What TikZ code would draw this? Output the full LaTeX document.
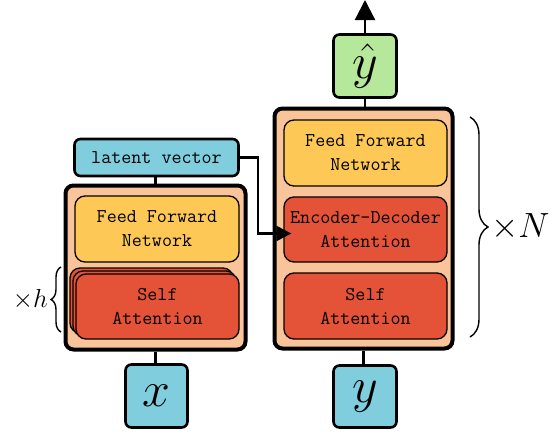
\documentclass[tikz,border=0pt]{standalone}
\usepackage{fix-cm}
\usetikzlibrary{arrows.meta,decorations.pathreplacing,calc}
\definecolor{cblue}{HTML}{80CDDD}
\definecolor{cpeach}{HTML}{F9C499}
\definecolor{cyellow}{HTML}{FDC856}
\definecolor{cred}{HTML}{E45238}
\definecolor{cgreen}{HTML}{B5E89A}
\tikzset{
  outerbox/.style={draw, fill=cpeach, line width=4pt, rounded corners=8pt, inner sep=0pt},
  innerbox/.style={draw, line width=1.3pt, rounded corners=10pt, inner sep=0pt, align=center,
     font=\ttfamily\fontsize{19.5}{24}\selectfont},
  smallbox/.style={draw, line width=2.6pt, rounded corners=6pt, inner sep=0pt, align=center},
  conn/.style={line width=2.3pt},
  bracestyle/.style={decorate, line width=1.4pt}
}
\begin{document}
\begin{tikzpicture}[x=1pt,y=-1pt]
\useasboundingbox (0,0) rectangle (550,434);
% encoder
\node[smallbox, fill=cblue, minimum width=164pt, minimum height=37pt,
      font=\ttfamily\fontsize{19.5}{24}\selectfont] (lat) at (156.5,157.5) {latent vector};
\node[outerbox, minimum width=180pt, minimum height=164pt] (encout) at (155.5,267.5) {};
\node[innerbox, fill=cyellow, minimum width=164pt, minimum height=66pt] (ffnL) at (157,229) {Feed Forward\\Network};
\node[innerbox, fill=cred, minimum width=163pt, minimum height=65pt] (saLb) at (151.5,300.5) {};
\node[innerbox, fill=cred, minimum width=163pt, minimum height=65pt] (saLm) at (154.5,303.5) {};
\node[innerbox, fill=cred, minimum width=163pt, minimum height=65pt] (saL) at (157.5,306.5) {Self\\Attention};
\node[smallbox, fill=cblue, minimum width=62pt, minimum height=63pt,
      font=\fontsize{50}{50}\selectfont] (xbox) at (156.5,396) {$x$};
% decoder
\node[outerbox, minimum width=178pt, minimum height=240pt] (decout) at (363.5,228.5) {};
\node[innerbox, fill=cyellow, minimum width=163pt, minimum height=66pt] (ffnR) at (365.5,153) {Feed Forward\\Network};
\node[innerbox, fill=cred, minimum width=163pt, minimum height=65pt] (edR) at (365.5,229.5) {Encoder-Decoder\\Attention};
\node[innerbox, fill=cred, minimum width=163pt, minimum height=66pt] (saR) at (365.5,306) {Self\\Attention};
\node[smallbox, fill=cblue, minimum width=63pt, minimum height=62pt,
      font=\fontsize{50}{50}\selectfont] (ybox) at (365,396.5) {$y$};
\node[smallbox, fill=cgreen, minimum width=63pt, minimum height=63pt,
      font=\fontsize{50}{50}\selectfont] (yhat) at (365,66) {$\hat{y}$};
\coordinate (top) at (365,0);
% connectors
\draw[conn] (lat.south -| encout.north) -- (encout.north);
\draw[conn] (encout.south) -- (encout.south |- xbox.north);
\draw[conn] (decout.south) -- (decout.south |- ybox.north);
\draw[conn] (yhat.south |- decout.north) -- (yhat.south);
\draw[conn, -{Triangle[width=20pt,length=20pt]}] (yhat.north) -- (top);
\coordinate (bend) at (258,157.5);
\coordinate (edtip) at ($(edR.west)+(8,4)$);
\draw[conn, -{Triangle[width=15pt,length=15pt]}] (lat.east |- bend) -- (bend) -- (bend |- edtip) -- (edtip);
% braces
\coordinate (hb1) at (61,332);
\coordinate (hb2) at (61,267);
\draw[bracestyle, decoration={brace, amplitude=10pt}] (hb1) -- (hb2);
\node[anchor=east, inner sep=0pt, font=\fontsize{26}{26}\selectfont] (xh) at (48,300) {$\times h$};
\coordinate (nb1) at (470,117);
\coordinate (nb2) at (470,337);
\draw[bracestyle, decoration={brace, amplitude=18pt}] (nb1) -- (nb2);
\node[anchor=west, inner sep=0pt, font=\fontsize{35}{35}\selectfont] (xn) at (491,227) {$\times N$};
\end{tikzpicture}
\end{document}
